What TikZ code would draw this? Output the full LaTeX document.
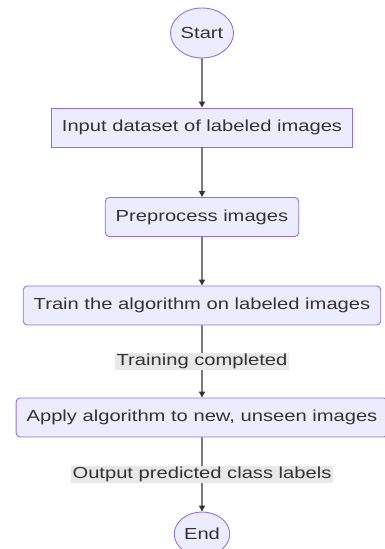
\documentclass[tikz,border=0pt]{standalone}
\usepackage{fontspec}
\setmainfont{Liberation Sans}
\usetikzlibrary{arrows.meta}
\definecolor{boxfill}{HTML}{ECECFF}
\definecolor{boxline}{HTML}{9370DB}
\definecolor{ink}{HTML}{333333}
\definecolor{lblfill}{HTML}{E8E8E8}
\tikzstyle{proc} = [draw=boxline, fill=boxfill, text=ink, line width=0.9pt, minimum height=39pt, inner xsep=8.3pt, font=\fontsize{16}{19}\selectfont]
\tikzstyle{roundproc} = [proc, rounded corners=4pt]
\tikzstyle{terminal} = [draw=boxline, fill=boxfill, text=ink, line width=0.9pt, circle, inner sep=0pt, font=\fontsize{16}{19}\selectfont]
\tikzstyle{flow} = [draw=ink, line width=1.4pt, -{Triangle[length=6pt,width=6pt]}]
\tikzstyle{lbl} = [fill=lblfill, text=ink, inner xsep=1pt, inner ysep=1.5pt, font=\fontsize{16}{19}\selectfont]

\begin{document}
\begin{tikzpicture}[x=1pt, y=1pt]
\useasboundingbox (0,0) rectangle (384,549);
\begin{scope}[shift={(202,0)}, xscale=1.26, transform shape]
	\node[terminal, minimum size=50pt] (start) at (0,516) {Start};
	\node[proc] (input) at (0,421.5) {Input dataset of labeled images};
	\node[roundproc] (prep) at (0,332) {Preprocess images};
	\node[roundproc] (train) at (0,243.5) {Train the algorithm on labeled images};
	\node[roundproc] (apply) at (0,131.5) {Apply algorithm to new, unseen images};
	\node[terminal, minimum size=44pt] (end) at (0,15) {End};

	\draw[flow] (start) -- (input);
	\draw[flow] (input) -- (prep);
	\draw[flow] (prep) -- (train);
	\draw[flow] (train) -- node[lbl] {Training completed} (apply);
	\draw[flow] (apply) -- node[lbl] {Output predicted class labels} (end);
\end{scope}
\end{tikzpicture}
\end{document}
